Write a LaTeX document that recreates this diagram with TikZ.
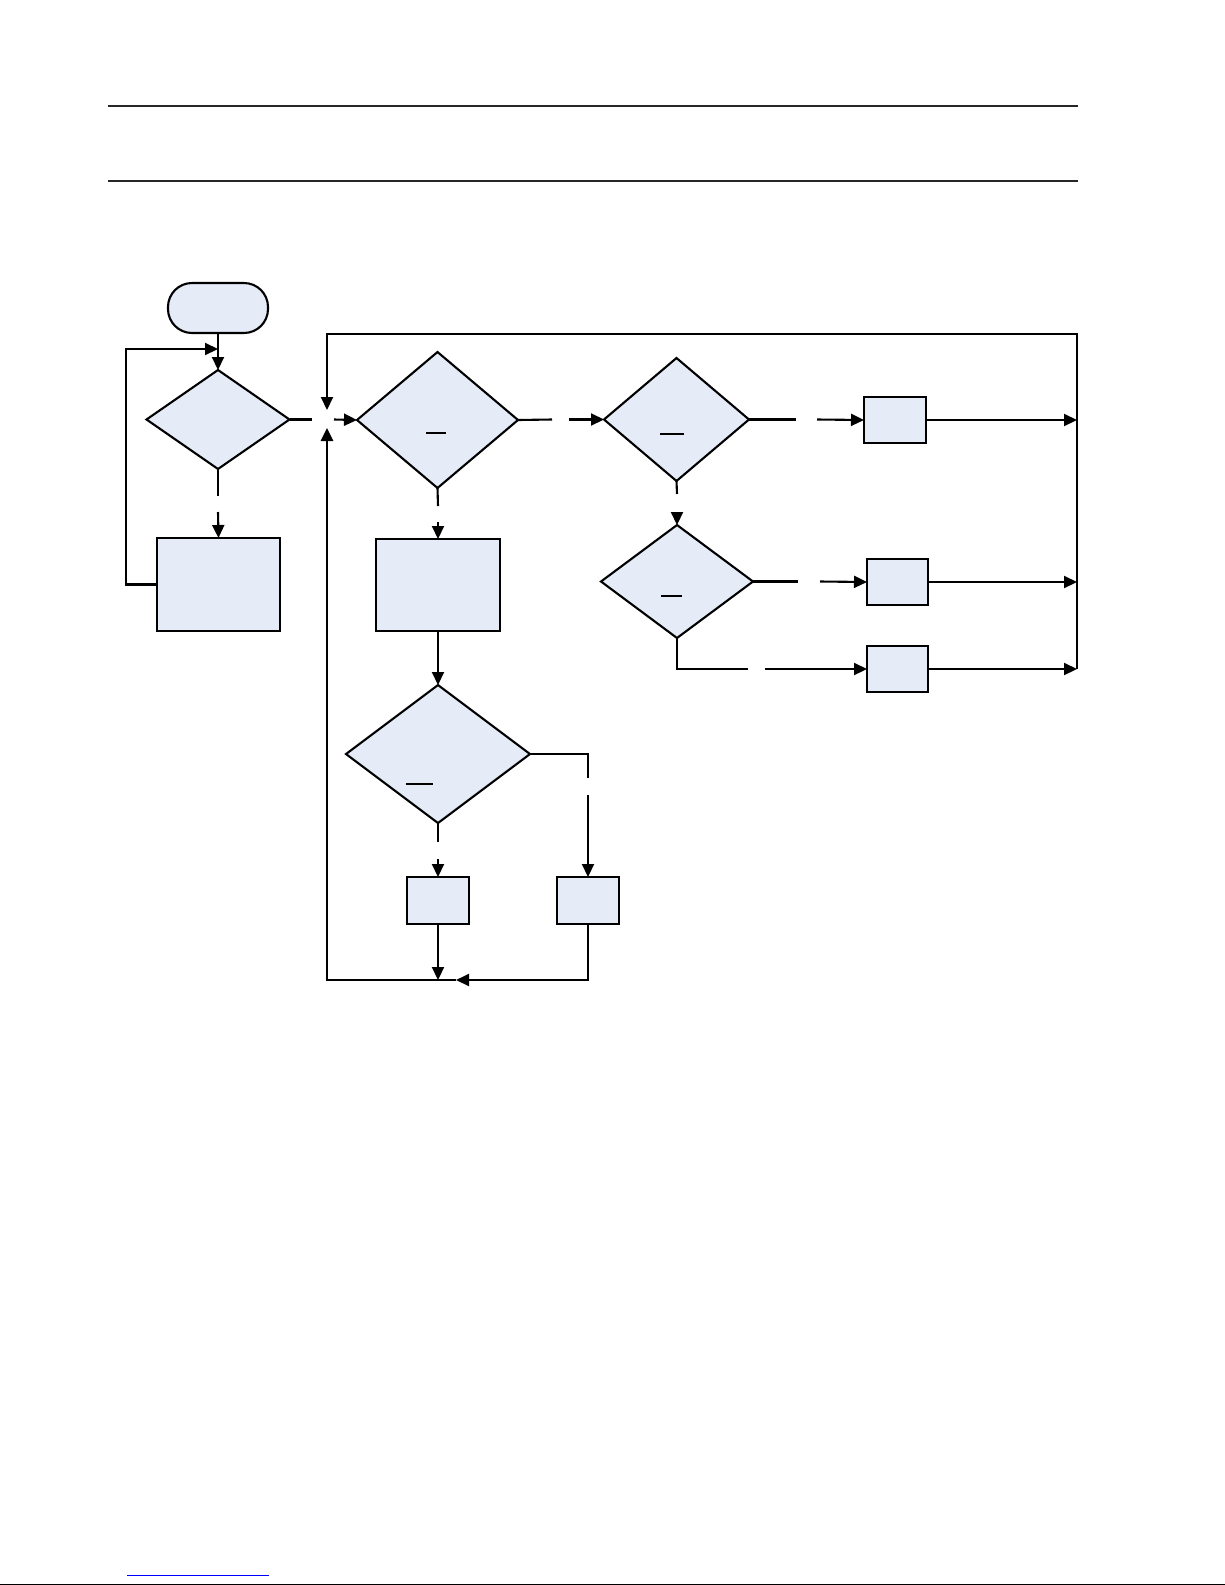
\documentclass[tikz,border=0pt]{standalone}
\usetikzlibrary{shapes.geometric,arrows.meta}
\definecolor{boxfill}{RGB}{229,236,247}
\begin{document}
\begin{tikzpicture}[x=1pt,y=-1pt,
  base/.style={draw=black,line width=2.1pt,fill=boxfill,inner sep=0pt,outer sep=0pt},
  dia/.style={base,diamond},
  procbox/.style={base,rectangle},
  termbox/.style={base,rectangle,rounded corners=24pt},
  conn/.style={line width=2.1pt,draw=black},
  arr/.style={conn,-{Triangle[length=13pt,width=12pt]}},
  tick/.style={line width=1.5pt,draw=black}]
\useasboundingbox (0,0) rectangle (1225,1585);
% header rules
\draw[line width=1.3pt,black!85] (108,106) -- (1078,106);
\draw[line width=1.3pt,black!85] (108,181) -- (1078,181);
% nodes
\node[termbox,minimum width=100pt,minimum height=50pt] (term) at (218,308) {};
\node[dia,minimum width=143pt,minimum height=99pt] (d1) at (218,419.5) {};
\node[procbox,minimum width=123pt,minimum height=93pt] (b1) at (218.5,584.5) {};
\node[dia,minimum width=161pt,minimum height=136pt] (d2) at (437.5,420) {};
\node[procbox,minimum width=124pt,minimum height=92pt] (b2) at (438,585) {};
\node[dia,minimum width=145pt,minimum height=123pt] (dA) at (676.5,419.5) {};
\node[dia,minimum width=152pt,minimum height=113pt] (dB) at (677,581.5) {};
\node[dia,minimum width=184pt,minimum height=138pt] (dC) at (438,754) {};
\node[procbox,minimum width=62pt,minimum height=46pt] (r1) at (895,420) {};
\node[procbox,minimum width=61pt,minimum height=46pt] (r2) at (897.5,582) {};
\node[procbox,minimum width=61pt,minimum height=46pt] (r3) at (897.5,669) {};
\node[procbox,minimum width=62pt,minimum height=47pt] (c1) at (438,900.5) {};
\node[procbox,minimum width=62pt,minimum height=47pt] (c2) at (588,900.5) {};
% helper coordinates
\coordinate (jt) at (327,410);
\coordinate (jb) at (327,428);
\coordinate (rt) at (1077,334);
\coordinate (rb) at (1077,669);
\coordinate (m) at (438,980);
\coordinate (m2) at (456,980);
\coordinate (lp) at (218,349);
% start and left loop
\draw[arr] (term.south) -- (d1.north);
\draw[conn] (d1.south) -- (218,496);
\draw[arr] (218,512) -- (b1.north);
\draw[arr] (b1.west) -- (126,584.5) -- (126,349) -- (lp);
% junction
\draw[conn] (d1.east) -- (312,419.5);
\draw[arr] (334,419.5) -- (d2.west);
\draw[arr] (rb) -- (rt) -| (jt);
\draw[arr,line width=2.6pt] (m2) -| (jb);
% middle column
\draw[conn] (d2.south) -- (438,506);
\draw[arr] (438,522) -- (b2.north);
\draw[arr] (b2.south) -- (dC.north);
\draw[conn] (dC.south) -- (438,842);
\draw[arr] (438,859) -- (c1.north);
\draw[conn] (dC.east) -- (588,754) -- (588,778);
\draw[arr] (588,795) -- (c2.north);
\draw[arr] (c1.south) -- (m);
\draw[arr] (c2.south) |- (m2);
% right part
\draw[conn] (d2.east) -- (552,419.5);
\draw[arr] (569,419.5) -- (dA.west);
\draw[conn] (dA.east) -- (796,419.5);
\draw[arr] (817,419.5) -- (r1.west);
\draw[conn] (dA.south) -- (677,494);
\draw[arr] (677,512) -- (dB.north);
\draw[conn] (dB.east) -- (798,581.5);
\draw[arr] (820,581.5) -- (r2.west);
\draw[conn] (dB.south) |- (748,669);
\draw[arr] (765,669) -- (r3.west);
\draw[arr] (r1.east) -- (rt |- r1.east);
\draw[arr] (r2.east) -- (rt |- r2.east);
\draw[arr] (r3.east) -- (rb);
% underscore marks inside decisions
\draw[tick] (426,433) -- (446,433);
\draw[tick] (660,434) -- (684,434);
\draw[tick] (661,596) -- (682,596);
\draw[tick] (406,784) -- (433,784);
% footer
\draw[blue,line width=1pt] (127,1575) -- (269,1575);
\draw[black,line width=1pt] (0,1584) -- (1225,1584);
\end{tikzpicture}
\end{document}
